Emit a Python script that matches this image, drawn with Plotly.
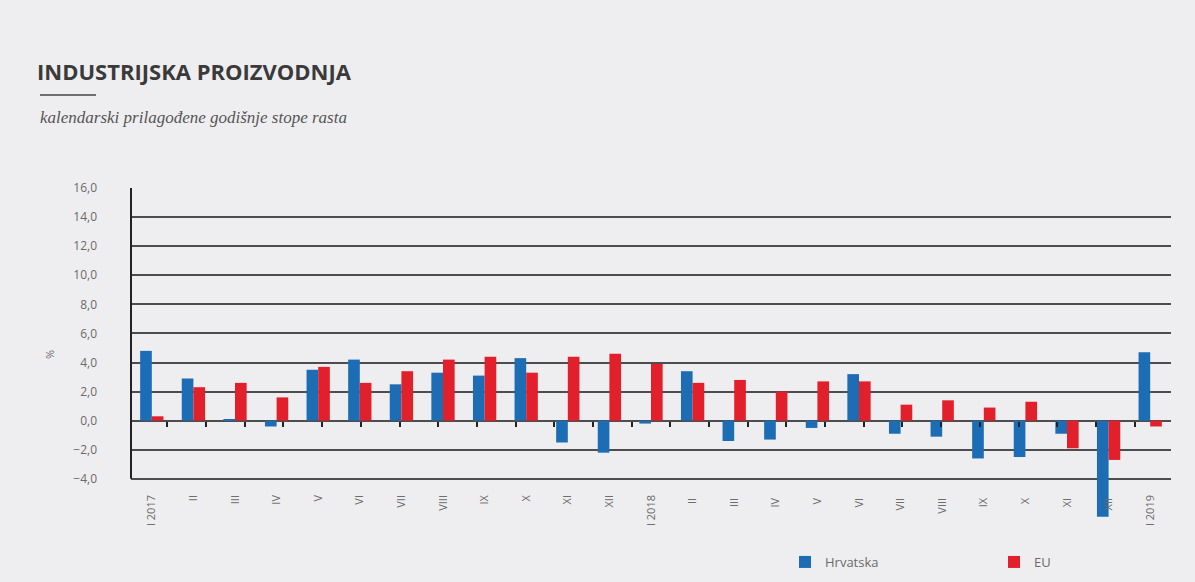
import plotly.graph_objects as go

categories = ["I 2017", "II", "III", "IV", "V", "VI", "VII", "VIII", "IX", "X", "XI", "XII",
              "I 2018", "II ", "III ", "IV ", "V ", "VI ", "VII ", "VIII ", "IX ", "X ", "XI ", "XII ",
              "I 2019"]
hrvatska = [4.8, 2.9, 0.1, -0.4, 3.5, 4.2, 2.5, 3.3, 3.1, 4.3, -1.5, -2.2,
            -0.2, 3.4, -1.4, -1.3, -0.5, 3.2, -0.9, -1.1, -2.6, -2.5, -0.9, -6.6,
            4.7]
eu = [0.3, 2.3, 2.6, 1.6, 3.7, 2.6, 3.4, 4.2, 4.4, 3.3, 4.4, 4.6,
      3.9, 2.6, 2.8, 2.0, 2.7, 2.7, 1.1, 1.4, 0.9, 1.3, -1.9, -2.7,
      -0.4]
y_ticks = [-4, -2, 0, 2, 4, 6, 8, 10, 12, 14, 16]

BG = "#EEEEF0"
BLUE = "#1C6DB4"
RED = "#E2202B"
GRID = "#4d4d4d"

W, H = 1195, 582
L, R, T, B = 131, 24, 188, 61
Y_MIN, Y_MAX = -6.9, 16.0
PW, PH = W - L - R, H - T - B


def px(x):
    return (x - L) / PW


def py(y):
    return (H - B - y) / PH


def yfrac(v):
    return (v - Y_MIN) / (Y_MAX - Y_MIN)


fig = go.Figure()
fig.add_trace(go.Bar(x=categories, y=hrvatska, name="Hrvatska", marker_color=BLUE,
                     marker_line_width=0, legend="legend"))
fig.add_trace(go.Bar(x=categories, y=eu, name="EU", marker_color=RED,
                     marker_line_width=0, legend="legend2"))
# helper trace so the zero-line tick axis is drawn
fig.add_trace(go.Scatter(x=categories, y=[0] * len(categories), xaxis="x2", mode="markers",
                         marker=dict(opacity=0), showlegend=False, hoverinfo="skip"))

legend_font = dict(family="Open Sans, sans-serif", size=13, color="#6a6a6a")
fig.update_layout(
    width=W, height=H,
    paper_bgcolor=BG, plot_bgcolor=BG,
    margin=dict(l=L, r=R, t=T, b=B, autoexpand=False),
    barmode="group", bargap=0.44, bargroupgap=0.0,
    separators=", ",
    font=dict(family="Open Sans, sans-serif", color="#6a6a6a"),
    title=dict(text="<b>INDUSTRIJSKA PROIZVODNJA</b>", x=37 / W, xanchor="left",
               y=1 - 72 / H, yanchor="middle",
               font=dict(family="Open Sans, sans-serif", size=22, color="#3a3a3a")),
    showlegend=True,
    legend=dict(orientation="h", x=px(785), xanchor="left", y=py(562), yanchor="middle",
                font=legend_font, bgcolor="rgba(0,0,0,0)", itemclick=False, itemwidth=30),
    legend2=dict(orientation="h", x=px(994), xanchor="left", y=py(562), yanchor="middle",
                 font=legend_font, bgcolor="rgba(0,0,0,0)", itemclick=False, itemwidth=30),
    xaxis=dict(type="category", showgrid=False, showline=False, ticks="",
               anchor="free", position=yfrac(-4),
               tickangle=-90, tickfont=dict(size=11, color="#6a6a6a",
                                            family="Open Sans, sans-serif"),
               ticklabelstandoff=13, zeroline=False),
    xaxis2=dict(type="category", overlaying="x", anchor="free", position=yfrac(0),
                side="bottom", showgrid=False, showline=False, showticklabels=False,
                ticks="outside", ticklen=5, tickwidth=2, tickcolor="#222",
                tickson="boundaries", zeroline=False),
    yaxis=dict(range=[Y_MIN, Y_MAX], tickvals=y_ticks, tickformat=".1f",
               showgrid=True, gridcolor=GRID, gridwidth=2,
               zeroline=True, zerolinecolor=GRID, zerolinewidth=2,
               showline=False,
               ticks="", ticklabelstandoff=33,
               tickfont=dict(size=12, color="#6a6a6a", family="Open Sans, sans-serif"),
               title=dict(text="%", font=dict(size=11, color="#6a6a6a"), standoff=16)),
)

# left axis line from -4 to 16
fig.add_shape(type="line", xref="paper", yref="y", x0=0, x1=0, y0=-4, y1=16,
              line=dict(color="#222", width=2), layer="above")

fig.add_annotation(text="<i>kalendarski prilagođene godišnje stope rasta</i>",
                   xref="paper", yref="paper", x=px(38), y=py(117),
                   xanchor="left", yanchor="middle", showarrow=False,
                   font=dict(family="Liberation Serif, serif", size=17, color="#555"))
fig.add_shape(type="line", xref="paper", yref="paper",
              x0=px(40), x1=px(96), y0=py(95), y1=py(95),
              line=dict(color="#444", width=1.5))

fig.write_html("out.html",
               config={"displayModeBar": False},
               post_script="document.body.style.margin='0';"
                           "document.body.style.background='#EEEEF0';")
